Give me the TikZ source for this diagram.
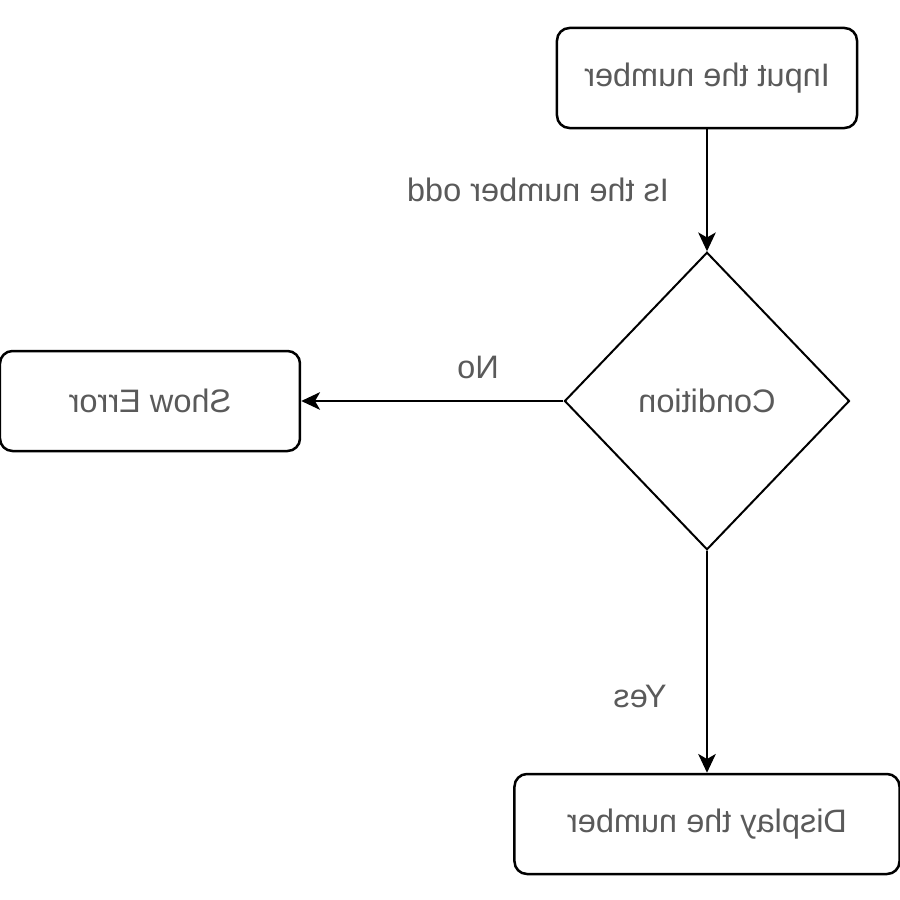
\documentclass[tikz,border=0pt]{standalone}
\usepackage{fontspec}
\setmainfont{Liberation Sans}
\usetikzlibrary{arrows.meta}
\usetikzlibrary{shapes.geometric}
\tikzset{>={Stealth[length=7.5pt,width=7pt,inset=2pt]}}
\definecolor{labelgray}{RGB}{90,90,90}

\begin{document}
\begin{tikzpicture}[x=.4pt, y=-.4pt, xscale=-1,
    every node/.style={transform shape, text=labelgray, font=\fontsize{13}{15}\selectfont},
    stepbox/.style={draw, line width=1pt, rounded corners=5pt, minimum width=120pt, minimum height=40pt, inner sep=0pt},
    test/.style={draw, line width=.8pt, diamond, minimum width=114pt, minimum height=119pt, inner sep=0pt},
    flow/.style={->, line width=1pt}]
      \useasboundingbox (0,0) rectangle (900,900);
      % boxes
      \node[stepbox] (input) at (193,78) {Input the number};
      \node[test] (cond) at (193,401) {Condition};
      \node[stepbox] (error) at (750,401) {Show Error};
      \node[stepbox, minimum width=154pt] (display) at (193,824) {Display the number};
      % arrows
      \draw[flow] (input) -- (cond);
      \draw[flow] (cond) -- (error);
      \draw[flow] (cond) -- (display);
      % labels
      \node (oddlbl) at (362,190) {Is the number odd};
      \node (nolbl) at (422,367) {No};
      \node (yeslbl) at (260,696) {Yes};
    \end{tikzpicture}
\end{document}
